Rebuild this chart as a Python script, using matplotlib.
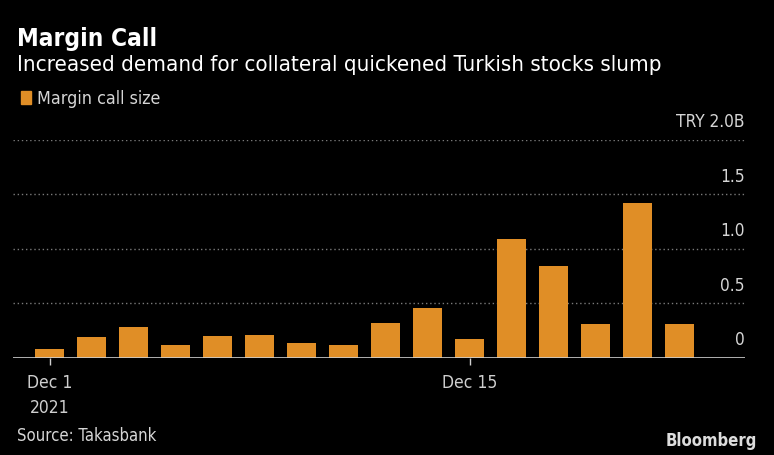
import matplotlib.pyplot as plt
import numpy as np

# Business days Dec 1 - Dec 22, 2021
dates = ["Dec 1", "Dec 2", "Dec 3", "Dec 6", "Dec 7", "Dec 8", "Dec 9", "Dec 10",
         "Dec 13", "Dec 14", "Dec 15", "Dec 16", "Dec 17", "Dec 20", "Dec 21", "Dec 22"]
margin_call = [0.08, 0.19, 0.28, 0.12, 0.20, 0.21, 0.14, 0.12,
               0.32, 0.46, 0.17, 1.09, 0.84, 0.31, 1.42, 0.31]
yticks = [0, 0.5, 1.0, 1.5, 2.0]
ytick_labels = ["0", "0.5", "1.0", "1.5", "TRY 2.0B"]
xtick_pos = [0, 10]
xtick_labels = ["Dec 1\n2021", "Dec 15"]

plt.rcParams['font.family'] = ['DejaVu Sans']
plt.rcParams['font.stretch'] = 'condensed'

orange = "#E08E26"
txt = "#D6D6D6"

fig = plt.figure(figsize=(7.74, 4.56), dpi=100, facecolor="black")
ax = fig.add_axes([0.0168, 0.2127, 0.9457, 0.4783], facecolor="black")

x = np.arange(len(dates))
ax.bar(x, margin_call, width=0.69, color=orange, zorder=3)

ax.set_xlim(-0.88, 16.55)
ax.set_ylim(0, 2.0)

# gridlines + labels above them on the right
for v, lab in zip(yticks, ytick_labels):
    if v > 0:
        ax.axhline(v, color="#7a7a7a", lw=1, ls=(0, (1, 2)), zorder=1)
    ax.annotate(lab, xy=(1.0, v), xycoords=("axes fraction", "data"),
                xytext=(0, 7), textcoords="offset points",
                ha="right", va="bottom", color=txt, fontsize=12.4)

ax.axhline(0, color="#cfcfcf", lw=1.2, zorder=4)
for s in ax.spines.values():
    s.set_visible(False)
ax.set_yticks([])
ax.set_xticks(xtick_pos)
ax.set_xticklabels(xtick_labels, color=txt, fontsize=12.5, ha="center",
                   linespacing=1.45)
ax.tick_params(axis="x", colors="#cfcfcf", length=5, width=1, pad=6)

fig.text(0.022, 0.90, "Margin Call", color="white", fontsize=17.5,
         fontweight="bold", va="baseline")
fig.text(0.022, 0.845, "Increased demand for collateral quickened Turkish stocks slump",
         color="white", fontsize=16, va="baseline")
fig.patches.append(plt.Rectangle((0.027, 0.77), 0.0125, 0.029,
                                 transform=fig.transFigure, color=orange))
fig.text(0.048, 0.772, "Margin call size", color=txt, fontsize=12.8, va="baseline")
fig.text(0.022, 0.032, "Source: Takasbank", color=txt, fontsize=12, va="baseline")
fig.text(0.978, 0.022, "Bloomberg", color="#dddddd", fontsize=12,
         fontweight="bold", ha="right", va="baseline")

fig.savefig("out.png", dpi=100, facecolor="black")
